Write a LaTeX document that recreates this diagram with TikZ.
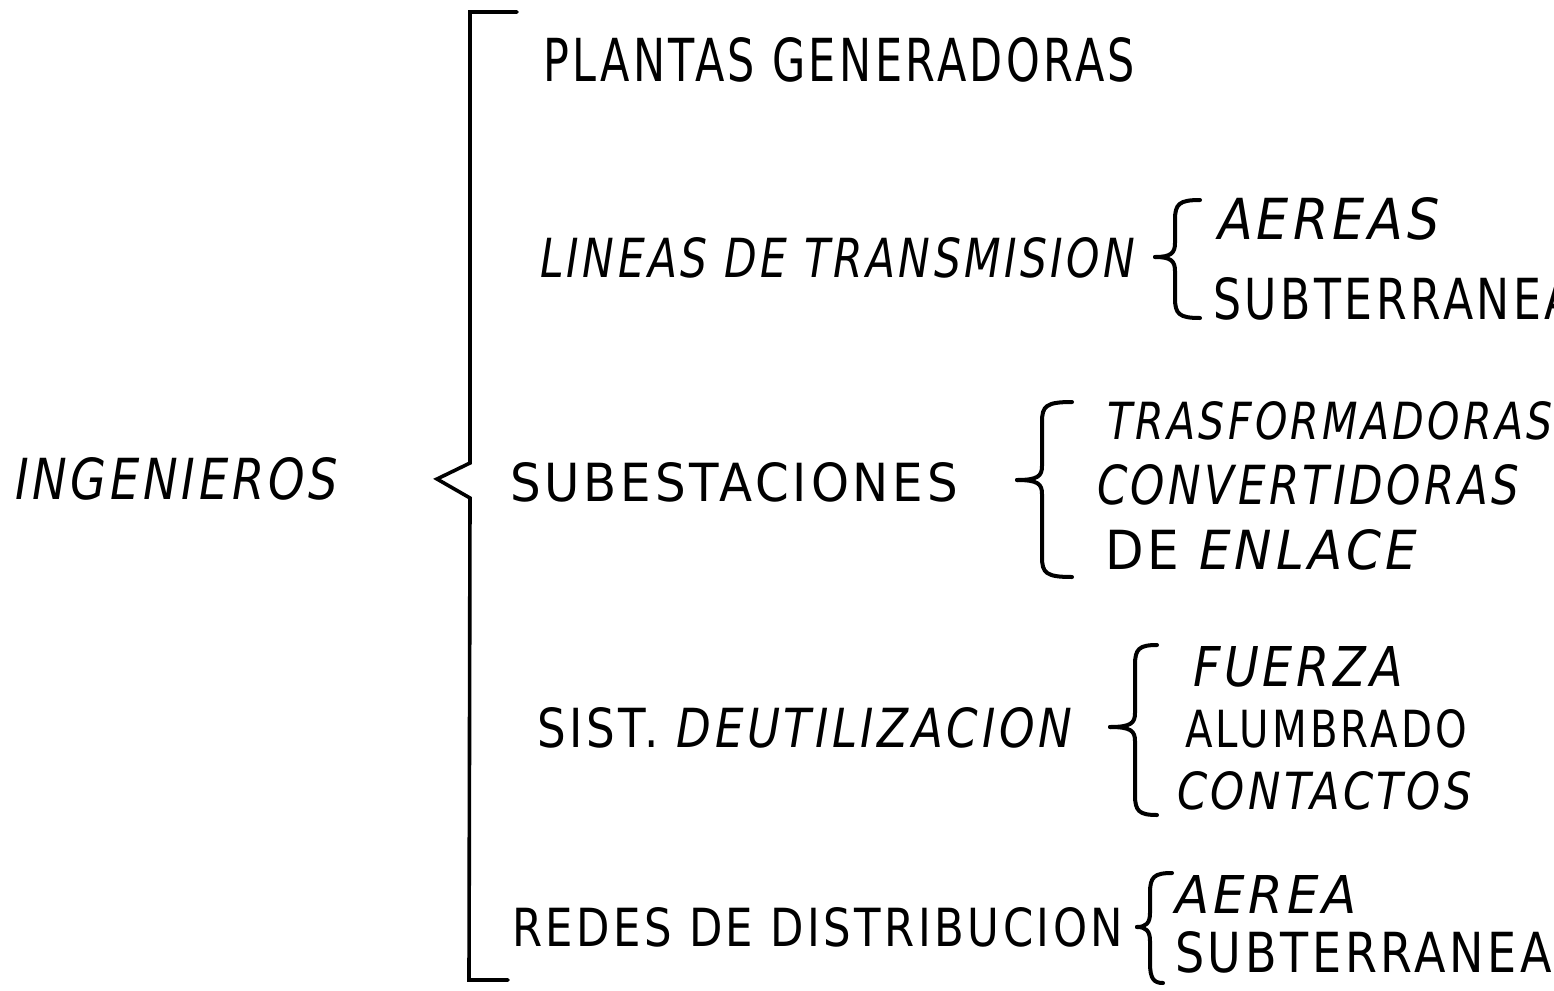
\documentclass[tikz,border=0pt]{standalone}
\usepackage{fontspec}
\usepackage{graphicx}
\newfontfamily\hand[LetterSpace=8]{DejaVu Sans}
\newdimen\pxu \pxu=0.5pt
\newcommand\hw[3]{\resizebox{#1\pxu}{#2\pxu}{\hand #3}}
\newcommand\cbrace[7]{%
  % #1 top end x, #2 bottom end x, #3 vertical x, #4 top y, #5 bottom y, #6 tip x, #7 tip y
  \draw[bracestyle] (#1,#4) .. controls ({#3+4},{#4}) and (#3,{#4+4}) .. (#3,{#4+20})
    -- (#3,{#7-14}) .. controls (#3,{#7-4}) and ({#3-4},#7) .. (#6,#7);
  \draw[bracestyle] (#6,#7) .. controls ({#3-4},#7) and (#3,{#7+4}) .. (#3,{#7+14})
    -- (#3,{#5-20}) .. controls (#3,{#5-4}) and ({#3+4},#5) .. (#2,#5);
}
\begin{document}
\begin{tikzpicture}[x=0.5pt,y=-0.5pt,
  txt/.style={inner sep=0pt,outer sep=0pt,anchor=south west},
  bracestyle/.style={line width=2pt,line cap=round,line join=round},
  bigbracket/.style={line width=1.8pt,line cap=round,line join=miter}]
\useasboundingbox (0,0) rectangle (1554,991);
\fill[white] (0,0) rectangle (1554,991);
\clip (0,0) rectangle (1554,991);

% left label
\node[txt] (ing) at (15,500) {\hw{323}{42}{\itshape INGENIEROS}};

% big bracket with angle
\coordinate (bt1) at (517,12);
\coordinate (bt2) at (470,12);
\coordinate (bm1) at (470,463);
\coordinate (btip) at (437,479);
\coordinate (bm2) at (470,498);
\coordinate (bb1) at (469,980);
\coordinate (bb2) at (508,980);
\draw[bigbracket] (bt1) -- (bt2) -- (bm1) -- (btip) -- (bm2) -- (bb1) -- (bb2);

% main items
\node[txt] (plantas) at (543,82) {\hw{592}{44}{PLANTAS GENERADORAS}};
\node[txt] (lineas) at (540,278) {\hw{595}{40}{\itshape LINEAS DE TRANSMISION}};
\node[txt] (subest) at (510,502) {\hw{448}{39}{SUBESTACIONES}};
\node[txt] (sist) at (537,748) {\hw{535}{40}{SIST. {\itshape DEUTILIZACION}}};
\node[txt] (redes) at (512,947) {\hw{611}{39}{REDES DE DISTRIBUCION}};

% braces
\cbrace{1200}{1200}{1175}{200}{318}{1155}{257}
\cbrace{1072}{1072}{1042}{402}{577}{1017}{480}
\cbrace{1157}{1157}{1135}{645}{815}{1110}{727}
\cbrace{1172}{1163}{1150}{873}{983}{1137}{927}

% sub items
\node[txt] (aereas) at (1218,240) {\hw{222}{42}{\itshape AEREAS}};
\node[txt] (subt1) at (1213,320) {\hw{362}{42}{SUBTERRANEA}};

\node[txt] (trasf) at (1107,440) {\hw{446}{38}{\itshape TRASFORMADORAS}};
\node[txt] (conv) at (1097,505) {\hw{422}{40}{\itshape CONVERTIDORAS}};
\node[txt] (enlace) at (1105,570) {\hw{312}{40}{DE {\itshape ENLACE}}};

\node[txt] (fuerza) at (1193,687) {\hw{210}{40}{\itshape FUERZA}};
\node[txt] (alumbrado) at (1185,748) {\hw{282}{38}{ALUMBRADO}};
\node[txt] (contactos) at (1177,810) {\hw{295}{38}{\itshape CONTACTOS}};

\node[txt] (aerea) at (1175,913) {\hw{182}{38}{\itshape AEREA}};
\node[txt] (subt2) at (1175,973) {\hw{377}{41}{SUBTERRANEA}};
\end{tikzpicture}
\end{document}
